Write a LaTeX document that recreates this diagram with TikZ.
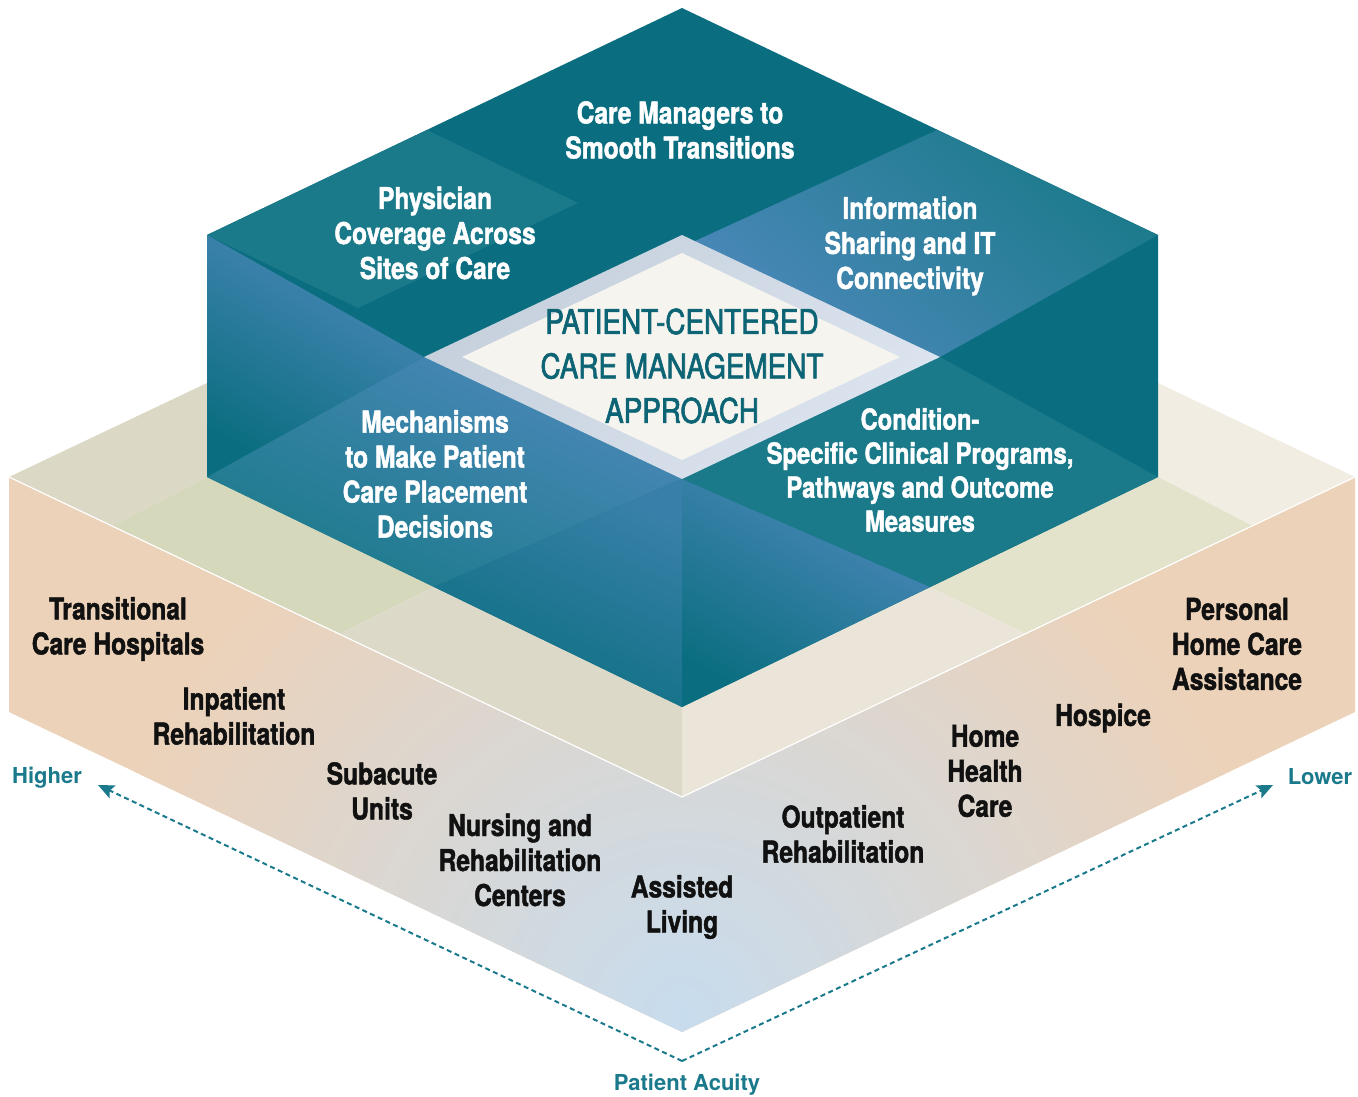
\documentclass[tikz,border=0pt]{standalone}
\usepackage{fontspec}
\setmainfont{TeX Gyre Heros}
\newfontfamily\narrowfont{TeX Gyre Heros}[FakeStretch=0.82, FakeBold=1.5]
\newfontfamily\hubfont{TeX Gyre Heros}[FakeStretch=0.82, FakeBold=2]
\usetikzlibrary{arrows.meta,positioning,calc}
\definecolor{tealdk}{HTML}{0B6E80}
\definecolor{tealmd}{HTML}{1A7A8A}
\definecolor{tealbl}{HTML}{4C88BA}
\definecolor{framedk}{HTML}{C5D0DC}
\definecolor{framelt}{HTML}{DCE4EF}
\definecolor{paper}{HTML}{F5F4EF}
\definecolor{hubteal}{HTML}{0D6474}
\definecolor{peach}{HTML}{ECD2B9}
\definecolor{skyb}{HTML}{C7DCEE}
\definecolor{sandA}{HTML}{DCD8C6}
\definecolor{oliveB}{HTML}{D5D8BB}
\definecolor{sandC}{HTML}{DDD9C8}
\definecolor{creamD}{HTML}{F2EDE3}
\definecolor{oliveE}{HTML}{E2E3CA}
\definecolor{sandF}{HTML}{EAE5D8}
\definecolor{inkblack}{HTML}{111111}
\definecolor{axisteal}{HTML}{1A7A8C}
\tikzset{
  pillar/.style={font=\narrowfont\bfseries\fontsize{30}{35}\selectfont, text=white,
                 align=center, inner sep=0pt},
  site/.style={font=\narrowfont\bfseries\fontsize{30}{35}\selectfont, text=inkblack,
               align=center, inner sep=0pt},
  hubtext/.style={font=\hubfont\fontsize{34}{44.5}\selectfont, text=hubteal,
                  align=center, inner sep=0pt},
  axislabel/.style={font=\bfseries\fontsize{22}{24}\selectfont, text=axisteal, inner sep=0pt},
  acuity/.style={-{Stealth[length=16pt,width=14pt,inset=3pt]}, dash pattern=on 5pt off 3.5pt,
                 line width=2pt, color=axisteal}}

\begin{document}
\begin{tikzpicture}[x=1pt, y=-1pt]
  \fill[white] (0,0) rectangle (1358,1097);
  \useasboundingbox (0,0) rectangle (1358,1097);

  % platform
  \coordinate (bL) at (9,477);     \coordinate (bV) at (682,797);   \coordinate (bR) at (1355,477);
  \coordinate (bL2) at (9,712);    \coordinate (bV2) at (682,1032); \coordinate (bR2) at (1355,712);
  \coordinate (bBL) at (207,383);  \coordinate (bBR) at (1158,383);
  \coordinate (a1) at (112,526);   \coordinate (a2) at (339,634);
  \coordinate (e1) at (1253,526);  \coordinate (e2) at (1026,634);

  % block
  \coordinate (T) at (682,8);      \coordinate (B) at (682,707);
  \coordinate (UL) at (207,235);   \coordinate (LL) at (207,477);
  \coordinate (UR) at (1158,235);  \coordinate (LR) at (1158,477);
  \coordinate (qL) at (427,130);   \coordinate (qR) at (937,130);   \coordinate (qC) at (682,247);
  \coordinate (pA) at (578,203);   \coordinate (pB) at (358,308);
  \coordinate (dT) at (682,235);   \coordinate (dL) at (424,357);
  \coordinate (dB) at (682,479);   \coordinate (dR) at (940,357);
  \coordinate (mB) at (434,587);   \coordinate (cB) at (930,587);

  \fill[peach] (bL) -- (bV) -- (bR) -- (bR2) -- (bV2) -- (bL2) -- cycle;
  \begin{scope}
    \clip (bL) -- (bV) -- (bR) -- (bR2) -- (bV2) -- (bL2) -- cycle;
    \shade[inner color=skyb, outer color=peach] (682,1015) circle (600);
  \end{scope}
  \fill[sandA] (bL) -- (bBL) -- (LL) -- (a1) -- cycle;
  \fill[oliveB] (a1) -- (LL) -- (mB) -- (a2) -- cycle;
  \fill[sandC] (a2) -- (mB) -- (B) -- (bV) -- cycle;
  \fill[creamD] (bR) -- (bBR) -- (LR) -- (e1) -- cycle;
  \fill[oliveE] (e1) -- (LR) -- (cB) -- (e2) -- cycle;
  \fill[sandF] (e2) -- (cB) -- (B) -- (bV) -- cycle;
  \draw[white, line width=1.2pt] (bL) -- (bV) -- (bR);

  \fill[tealdk] (T) -- (UR) -- (LR) -- (B) -- (LL) -- (UL) -- cycle;
  \fill[tealmd] (qL) -- (pA) -- (pB) -- (UL) -- cycle;
  \shade[top color=tealmd, bottom color=tealbl, shading angle=-40]
    (qR) -- (UR) -- (dR) -- (qC) -- cycle;
  \shade[top color=tealbl, bottom color=tealdk, shading angle=-30]
    (UL) -- (dL) -- (LL) -- cycle;
  \shade[top color=tealbl, bottom color=tealmd, shading angle=-25]
    (dL) -- (dB) -- (mB) -- (LL) -- cycle;
  \shade[top color=tealbl!70!tealdk, bottom color=tealdk, shading angle=-25]
    (dB) -- (B) -- (mB) -- cycle;
  \fill[tealmd] (dB) -- (dR) -- (LR) -- (cB) -- cycle;
  \shade[top color=tealbl, bottom color=tealdk, shading angle=-30]
    (dB) -- (cB) -- (B) -- cycle;

  \shade[top color=framedk, bottom color=framelt, shading angle=45]
    (dT) -- (dL) -- (dB) -- (dR) -- cycle;
  \fill[paper] (682,253) -- (462,357) -- (682,460) -- (900,357) -- cycle;

  \node[hubtext] (hub) at (682,366) {PATIENT-CENTERED\\CARE MANAGEMENT\\APPROACH};

  \node[pillar] (managers) at (680,130) {Care Managers to\\Smooth Transitions};
  \node[pillar] (physician) at (435,233) {Physician\\Coverage Across\\Sites of Care};
  \node[pillar] (infoshare) at (910,246) {Information\\Sharing and IT\\Connectivity};
  \node[pillar] (placement) at (435,474) {Mechanisms\\to Make Patient\\Care Placement\\Decisions};
  \node[pillar, font=\narrowfont\bfseries\fontsize{29}{34}\selectfont] (programs) at (920,470)
    {Condition-\\Specific Clinical Programs,\\Pathways and Outcome\\Measures};

  \node[site] (tch) at (118,629) {Transitional\\Care Hospitals};
  \node[site] (irf) at (234,716) {Inpatient\\Rehabilitation};
  \node[site] (subacute) at (382,791) {Subacute\\Units};
  \node[site] (nursing) at (520,860) {Nursing and\\Rehabilitation\\Centers};
  \node[site] (assisted) at (682,907) {Assisted\\Living};
  \node[site] (outpt) at (843,834) {Outpatient\\Rehabilitation};
  \node[site] (homehealth) at (985,771) {Home\\Health\\Care};
  \node[site] (hospice) at (1103,718) {Hospice};
  \node[site] (personal) at (1237,644) {Personal\\Home Care\\Assistance};

  \coordinate (apex) at (682,1061);
  \coordinate (hiTip) at (98,785);
  \coordinate (loTip) at (1273,785);
  \draw[acuity] (apex) -- (hiTip);
  \draw[acuity] (apex) -- (loTip);
  \node[axislabel] (higher) at (47,778) {Higher};
  \node[axislabel] (lower) at (1320,777) {Lower};
  \node[axislabel] (acuitylbl) at (687,1085) {Patient Acuity};
\end{tikzpicture}
\end{document}
